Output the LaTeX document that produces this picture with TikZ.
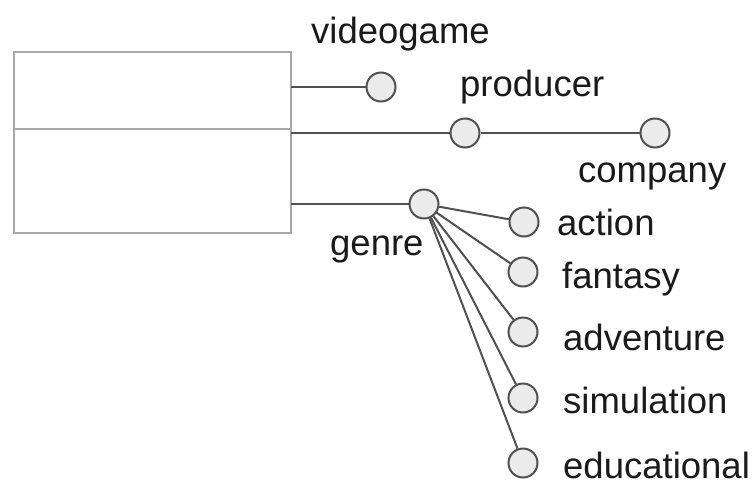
\documentclass[tikz,border=0pt]{standalone}
\usepackage{fontspec}
\setmainfont{Liberation Sans}
\definecolor{linegray}{HTML}{505050}
\definecolor{boxgray}{HTML}{A8A8A8}
\definecolor{dotfill}{HTML}{EBEBEB}
\definecolor{textdark}{HTML}{1A1A1A}
\begin{document}
\begin{tikzpicture}[x=1pt,y=-1pt,
  dot/.style={circle,draw=linegray,fill=dotfill,line width=2pt,minimum size=29pt,inner sep=0pt},
  link/.style={draw=linegray,line width=2pt},
  lbl/.style={anchor=base west,inner sep=0pt,text=textdark,font=\fontsize{36.5}{40}\selectfont}]
\useasboundingbox (0,0) rectangle (753,485);
% class box with divider
\draw[boxgray,line width=2.2pt] (14,52) rectangle (291,233);
\draw[boxgray,line width=2.2pt] (14,129) -- (291,129);
\coordinate (p1) at (291,87);
\coordinate (p2) at (291,133);
\coordinate (p3) at (291,204);
% attribute dots
\node[dot] (videogame) at (381,87) {};
\node[dot] (producer) at (465,133) {};
\node[dot] (company) at (655,133) {};
\node[dot] (genre) at (424,204) {};
\node[dot] (action) at (524,222) {};
\node[dot] (fantasy) at (523,272) {};
\node[dot] (adventure) at (523,332) {};
\node[dot] (simulation) at (523,398) {};
\node[dot] (educational) at (523,463) {};
% connectors
\draw[link] (p1) -- (videogame);
\draw[link] (p2) -- (producer);
\draw[link] (producer) -- (company);
\draw[link] (p3) -- (genre);
\foreach \c in {action,fantasy,adventure,simulation,educational}
  \draw[link] (genre) -- (\c);
% labels
\node[lbl] (tvideogame) at (311,43) {videogame};
\node[lbl] (tproducer) at (460,96) {producer};
\node[lbl] (tcompany) at (578,182) {company};
\node[lbl] (tgenre) at (330,255) {genre};
\node[lbl] (taction) at (557,235) {action};
\node[lbl] (tfantasy) at (562,288) {fantasy};
\node[lbl] (tadventure) at (563,350) {adventure};
\node[lbl] (tsimulation) at (563,413) {simulation};
\node[lbl] (teducational) at (563,478) {educational};
\end{tikzpicture}
\end{document}
